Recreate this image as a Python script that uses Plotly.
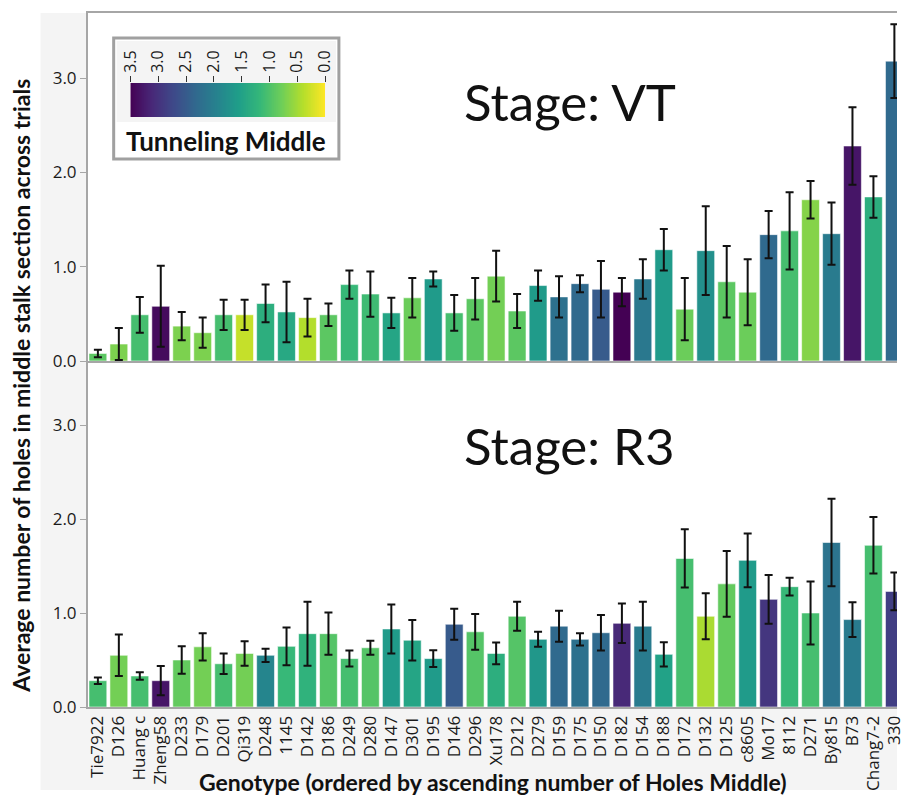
import numpy as np
import plotly.graph_objects as go

genotypes = ["Tie7922", "D126", "Huang c", "Zheng58", "D233", "D179", "D201", "Qi319",
             "D248", "1145", "D142", "D186", "D249", "D280", "D147", "D301", "D195",
             "D146", "D296", "Xu178", "D212", "D279", "D159", "D175", "D150", "D182",
             "D154", "D188", "D172", "D132", "D125", "c8605", "Mo17", "8112", "D271",
             "By815", "B73", "Chang7-2", "330"]

vt_holes = [0.08, 0.18, 0.49, 0.58, 0.37, 0.30, 0.49, 0.49, 0.61, 0.52, 0.46, 0.49, 0.81,
            0.71, 0.51, 0.67, 0.87, 0.51, 0.66, 0.90, 0.53, 0.80, 0.68, 0.82, 0.76, 0.73,
            0.87, 1.18, 0.55, 1.17, 0.84, 0.73, 1.34, 1.38, 1.71, 1.35, 2.28, 1.74, 3.18]
vt_err = [0.04, 0.17, 0.19, 0.43, 0.15, 0.16, 0.16, 0.16, 0.20, 0.32, 0.20, 0.12, 0.15,
          0.24, 0.16, 0.21, 0.08, 0.19, 0.22, 0.27, 0.18, 0.16, 0.22, 0.09, 0.30, 0.15,
          0.21, 0.22, 0.33, 0.47, 0.38, 0.35, 0.25, 0.41, 0.20, 0.33, 0.41, 0.22, 0.39]
vt_tunnel = [0.90, 0.70, 1.05, 3.40, 0.70, 0.70, 1.05, 0.30, 1.30, 1.40, 0.40, 0.90, 1.15,
             1.10, 1.45, 0.80, 1.60, 1.05, 0.90, 0.75, 0.90, 1.60, 2.20, 2.30, 2.50, 3.50,
             2.10, 1.60, 0.80, 1.75, 0.90, 0.80, 2.30, 1.05, 0.65, 2.05, 3.30, 1.30, 2.30]

r3_holes = [0.28, 0.55, 0.33, 0.28, 0.50, 0.64, 0.46, 0.57, 0.55, 0.645, 0.78, 0.78, 0.515,
            0.63, 0.83, 0.71, 0.515, 0.88, 0.80, 0.57, 0.965, 0.72, 0.86, 0.72, 0.79, 0.89,
            0.86, 0.56, 1.58, 0.965, 1.31, 1.56, 1.145, 1.28, 1.00, 1.75, 0.93, 1.72, 1.23]
r3_err = [0.035, 0.22, 0.04, 0.155, 0.145, 0.145, 0.11, 0.13, 0.07, 0.20, 0.34, 0.225, 0.085,
          0.075, 0.26, 0.215, 0.09, 0.165, 0.19, 0.115, 0.155, 0.08, 0.165, 0.065, 0.19, 0.21,
          0.26, 0.13, 0.31, 0.245, 0.35, 0.285, 0.26, 0.095, 0.335, 0.465, 0.185, 0.30, 0.20]
r3_tunnel = [1.05, 0.75, 1.05, 3.30, 0.85, 0.75, 1.05, 0.75, 1.90, 1.15, 1.25, 0.95, 1.05,
             0.95, 1.60, 1.45, 1.60, 2.50, 0.95, 1.30, 0.95, 1.65, 2.30, 2.20, 2.30, 3.10,
             2.05, 1.50, 1.05, 0.45, 0.85, 1.60, 2.95, 1.15, 1.05, 2.15, 2.05, 1.05, 2.85]

cbar_ticks = [0.0, 0.5, 1.0, 1.5, 2.0, 2.5, 3.0, 3.5]

W, H = 907, 797
L, R, T, B = 88, 0, 13, 90
PW, PH = W - L - R, H - T - B

def px(x):
    return (x - L) / PW

def py(y):
    return (H - B - y) / PH

split = py(361)
top_unit = 94.3
bot_unit = 94.0

tick_font = dict(family="Open Sans, Noto Sans, sans-serif", size=17, color="#1a1a1a")
title_font = "Lato, Noto Sans, sans-serif"

fig = go.Figure()

x_idx = list(range(len(genotypes)))

def bar_trace(vals, errs, tunnel, xa, ya):
    return go.Bar(
        x=x_idx, y=vals, xaxis=xa, yaxis=ya,
        marker=dict(color=tunnel, colorscale="Viridis", reversescale=True,
                    cmin=0, cmax=3.5,
                    line=dict(color="rgba(255,255,255,0.55)", width=1)),
        error_y=dict(type="data", array=errs, visible=True, color="#111111",
                     thickness=2, width=4),
        showlegend=False, hoverinfo="x+y",
    )

fig.add_trace(bar_trace(vt_holes, vt_err, vt_tunnel, "x", "y"))
fig.add_trace(bar_trace(r3_holes, r3_err, r3_tunnel, "x2", "y2"))

# colour legend gradient
grad = np.linspace(0, 3.5, 300)
fig.add_trace(go.Heatmap(x=grad, y=[0], z=[grad], colorscale="Viridis", reversescale=True,
                         zmin=0, zmax=3.5, showscale=False, xaxis="x3", yaxis="y3",
                         hoverinfo="skip"))

xr = [-(98 - L) / 21.22, (W - 98) / 21.22]

axis_line = dict(showline=True, linecolor="#a6a6a6", linewidth=2)

fig.update_layout(
    width=W, height=H,
    margin=dict(l=L, r=R, t=T, b=B),
    paper_bgcolor="white", plot_bgcolor="rgba(0,0,0,0)",
    bargap=0.15,
    xaxis=dict(domain=[0, 1], range=xr, anchor="y", showticklabels=False, ticks="",
               showgrid=False, zeroline=False, mirror=True, **axis_line),
    yaxis=dict(domain=[split, 1], range=[0, (361 - 13) / top_unit], anchor="x",
               tickvals=[0, 1, 2, 3], tickformat=".1f", ticks="outside", ticklen=6,
               tickcolor="#a6a6a6", tickwidth=1, showgrid=False, zeroline=False,
               tickfont=tick_font, **axis_line),
    xaxis2=dict(domain=[0, 1], range=xr, anchor="y2", tickvals=x_idx, ticktext=genotypes,
                tickangle=-90, ticks="", showgrid=False, zeroline=False,
                tickfont=tick_font, **axis_line),
    yaxis2=dict(domain=[0, split], range=[0, (707 - 361) / bot_unit], anchor="x2",
                tickvals=[0, 1, 2, 3], tickformat=".1f", ticks="outside", ticklen=6,
                tickcolor="#a6a6a6", tickwidth=1, showgrid=False, zeroline=False,
                tickfont=tick_font, **axis_line),
    xaxis3=dict(domain=[px(131), px(328)], range=[3.5, 0], anchor="y3", side="top",
                tickvals=cbar_ticks, tickformat=".1f", tickangle=-90, ticks="outside",
                ticklen=6, tickcolor="#333333", tickwidth=1, showgrid=False,
                zeroline=False, showline=False,
                tickfont=dict(family="Open Sans, Noto Sans, sans-serif", size=16,
                              color="#1a1a1a")),
    yaxis3=dict(domain=[py(117), py(83)], anchor="x3", showticklabels=False, ticks="",
                showgrid=False, zeroline=False, showline=False, range=[-0.5, 0.5]),
)

shapes = [
    # light grey background for the axis area
    dict(type="rect", xref="paper", yref="paper", x0=px(40), x1=1.0, y0=py(790), y1=1.0,
         fillcolor="#f4f4f4", line=dict(width=0), layer="below"),
    # white plotting area
    dict(type="rect", xref="paper", yref="paper", x0=0, x1=1.0, y0=0, y1=1.0,
         fillcolor="white", line=dict(width=0), layer="below"),
    # legend box
    dict(type="rect", xref="paper", yref="paper", x0=px(114), x1=px(342), y0=py(159),
         y1=py(38), fillcolor="white", line=dict(color="#a0a0a0", width=3), layer="below"),
    dict(type="rect", xref="paper", yref="paper", x0=px(117), x1=px(339), y0=py(122),
         y1=py(41), fillcolor="#f4f4f4", line=dict(width=0), layer="below"),
]

annotations = [
    dict(text="Stage: VT", xref="paper", yref="paper", x=px(467), y=py(101),
         xanchor="left", yanchor="middle", showarrow=False,
         font=dict(family=title_font, size=51, color="#111111")),
    dict(text="Stage: R3", xref="paper", yref="paper", x=px(467), y=py(446),
         xanchor="left", yanchor="middle", showarrow=False,
         font=dict(family=title_font, size=51, color="#111111")),
    dict(text="<b>Tunneling Middle</b>", xref="paper", yref="paper", x=px(228), y=py(141),
         xanchor="center", yanchor="middle", showarrow=False,
         font=dict(family=title_font, size=26, color="#111111")),
    dict(text="<b>Genotype (ordered by ascending number of Holes Middle)</b>",
         xref="paper", yref="paper", x=px(498), y=py(782), xanchor="center",
         yanchor="middle", showarrow=False,
         font=dict(family=title_font, size=23, color="#111111")),
    dict(text="<b>Average number of holes in middle stalk section across trials</b>",
         xref="paper", yref="paper", x=px(20), y=py(386), xanchor="center",
         yanchor="middle", textangle=-90, showarrow=False,
         font=dict(family=title_font, size=23, color="#111111")),
]

fig.update_layout(shapes=shapes, annotations=annotations)

fig.write_html("out.html")
